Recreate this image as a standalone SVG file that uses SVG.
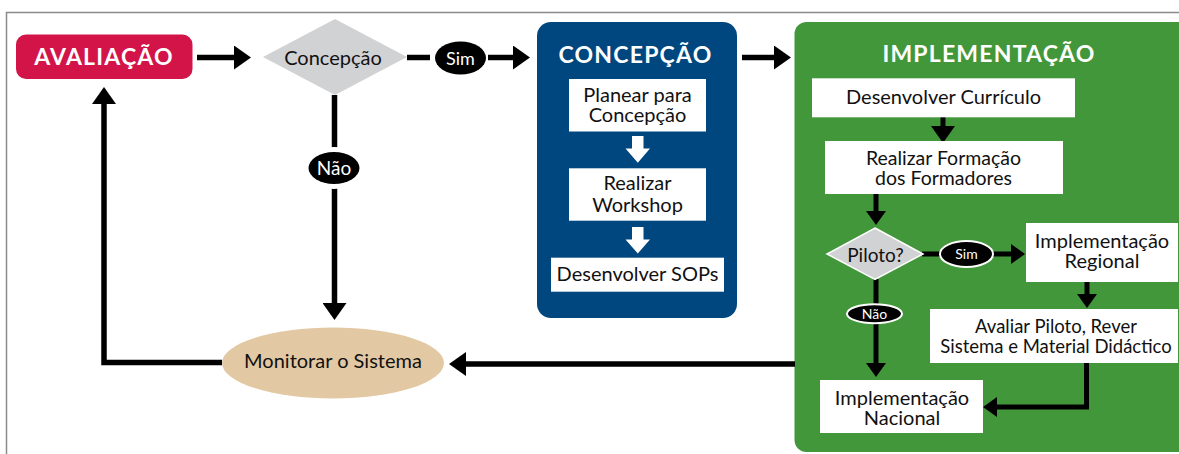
<svg xmlns="http://www.w3.org/2000/svg" width="1179" height="454" viewBox="0 0 1179 454">
<style>
.t{font-family:Lato,"Liberation Sans",sans-serif;font-size:20px;fill:#111;text-anchor:middle}
.tw{fill:#fff}
.title{font-family:Lato,"Liberation Sans",sans-serif;font-weight:700;font-size:23px;letter-spacing:1.2px;fill:#fff;text-anchor:middle}
.sm{font-size:14px}
.box{fill:#fff}
.ln{fill:none;stroke:#000;stroke-width:5.5}
.lg{fill:none;stroke:#000;stroke-width:5}
.wa{fill:#fff}
</style>
<defs>
<marker id="ah" markerUnits="userSpaceOnUse" viewBox="0 0 17 24" refX="0" refY="12" markerWidth="17" markerHeight="24" orient="auto"><path d="M0,0 L17,12 L0,24 Z" fill="#000"/></marker>
<marker id="ahs" markerUnits="userSpaceOnUse" viewBox="0 0 14 20" refX="0" refY="10" markerWidth="14" markerHeight="20" orient="auto"><path d="M0,0 L14,10 L0,20 Z" fill="#000"/></marker>
</defs>
<g id="frame">
<path d="M6.5,454 L6.5,12.5 L1179,12.5" fill="none" stroke="#8a8a8a" stroke-width="1.5"/>
</g>
<g id="concepcao-panel">
<rect x="537" y="22" width="200" height="296" rx="14" fill="#00477f"/>
<text class="title" x="635.5" y="62.5">CONCEPÇÃO</text>
</g>
<g id="implementacao-panel">
<rect x="794.5" y="22" width="400" height="430" rx="12" fill="#43973b"/>
<text class="title" x="989" y="62">IMPLEMENTAÇÃO</text>
</g>
<g id="connectors">
<line class="ln" x1="197" y1="57.5" x2="234" y2="57.5" marker-end="url(#ah)"/>
<line class="ln" x1="407" y1="57.5" x2="430" y2="57.5"/>
<line class="ln" x1="488" y1="57.5" x2="513" y2="57.5" marker-end="url(#ah)"/>
<line class="ln" x1="742" y1="57.5" x2="774" y2="57.5" marker-end="url(#ah)"/>
<line class="ln" x1="334.5" y1="95" x2="334.5" y2="303" marker-end="url(#ah)"/>
<polyline class="ln" points="222,362.5 104,362.5 104,104" marker-end="url(#ah)"/>
<line class="ln" x1="795" y1="364" x2="466" y2="364" marker-end="url(#ah)"/>
<line class="lg" x1="943" y1="117" x2="943" y2="126" marker-end="url(#ah)"/>
<line class="lg" x1="876" y1="194" x2="876" y2="211" marker-end="url(#ahs)"/>
<line class="lg" x1="922" y1="254" x2="942" y2="254"/>
<line class="lg" x1="992" y1="254" x2="1011" y2="254" marker-end="url(#ahs)"/>
<line class="lg" x1="1087" y1="282" x2="1087" y2="294" marker-end="url(#ahs)"/>
<line class="lg" x1="876" y1="279" x2="876" y2="363" marker-end="url(#ahs)"/>
<polyline class="lg" points="1086.5,363 1086.5,407 997,407" marker-end="url(#ahs)"/>
<path class="wa" d="M632,136 L643.5,136 L643.5,148.5 L650,148.5 L637.8,162.7 L625.5,148.5 L632,148.5 Z"/>
<path class="wa" d="M632,227 L643.5,227 L643.5,239.5 L650,239.5 L637.8,253.5 L625.5,239.5 L632,239.5 Z"/>
<ellipse cx="460.5" cy="58" rx="25.5" ry="16.5" fill="#000"/>
<text class="t tw" x="460.5" y="64.5" style="font-size:18px">Sim</text>
<ellipse cx="334" cy="168" rx="25.5" ry="16" fill="#000" stroke="#fff" stroke-width="10" paint-order="stroke"/>
<text class="t tw" x="334" y="175" style="font-size:19px">Não</text>
<ellipse cx="966.5" cy="254" rx="26.5" ry="13" fill="#000" stroke="#fff" stroke-width="2"/>
<text class="t tw sm" x="966.5" y="259">Sim</text>
<ellipse cx="874.5" cy="313.7" rx="27.5" ry="9.5" fill="#000" stroke="#fff" stroke-width="2"/>
<text class="t tw sm" x="874.5" y="318.5">Não</text>
</g>
<g id="avaliacao">
<rect x="16" y="34.5" width="176.5" height="44.5" rx="10" fill="#d31448"/>
<text class="title" x="104" y="65">AVALIAÇÃO</text>
</g>
<g id="concepcao-decision">
<polygon points="335,19 407,57 335,95 263,57" fill="#d1d2d4"/>
<text class="t" x="333" y="65">Concepção</text>
</g>
<g id="monitorar">
<ellipse cx="333" cy="363" rx="111" ry="35.5" fill="#e2c9a4"/>
<text class="t" x="333" y="367.5">Monitorar o Sistema</text>
</g>
<g id="planear">
<rect class="box" x="569" y="79" width="137" height="52.5"/>
<text class="t"><tspan x="637.5" y="101.5">Planear para</tspan><tspan x="637.5" y="121.5">Concepção</tspan></text>
</g>
<g id="workshop">
<rect class="box" x="569" y="168.3" width="137" height="52.4"/>
<text class="t"><tspan x="637.5" y="190">Realizar</tspan><tspan x="637.5" y="212.3">Workshop</tspan></text>
</g>
<g id="sops">
<rect class="box" x="551" y="257.7" width="173" height="34"/>
<text class="t" x="637.5" y="280.7">Desenvolver SOPs</text>
</g>
<g id="curriculo">
<rect class="box" x="812" y="78.3" width="263" height="39"/>
<text class="t" x="943.5" y="104">Desenvolver Currículo</text>
</g>
<g id="formacao">
<rect class="box" x="825" y="141" width="238" height="53"/>
<text class="t" style="font-size:19.5px"><tspan x="943.5" y="165">Realizar Formação</tspan><tspan x="943.5" y="185">dos Formadores</tspan></text>
</g>
<g id="piloto">
<polygon points="875,228 923,254 875,279.5 827,254" fill="#d1d2d4" stroke="#fff" stroke-width="1.5"/>
<text class="t" x="875.5" y="261.5" style="font-size:19px">Piloto?</text>
</g>
<g id="regional">
<rect class="box" x="1026" y="223" width="152" height="59"/>
<text class="t"><tspan x="1102" y="248.3">Implementação</tspan><tspan x="1102" y="268.3">Regional</tspan></text>
</g>
<g id="avaliar-piloto">
<rect class="box" x="930" y="309" width="248" height="54"/>
<text class="t" style="font-size:18.5px"><tspan x="1056" y="333.3">Avaliar Piloto, Rever</tspan><tspan x="1056" y="352.7">Sistema e Material Didáctico</tspan></text>
</g>
<g id="nacional">
<rect class="box" x="820" y="380" width="163" height="53"/>
<text class="t"><tspan x="902" y="405">Implementação</tspan><tspan x="902" y="425">Nacional</tspan></text>
</g>
</svg>
